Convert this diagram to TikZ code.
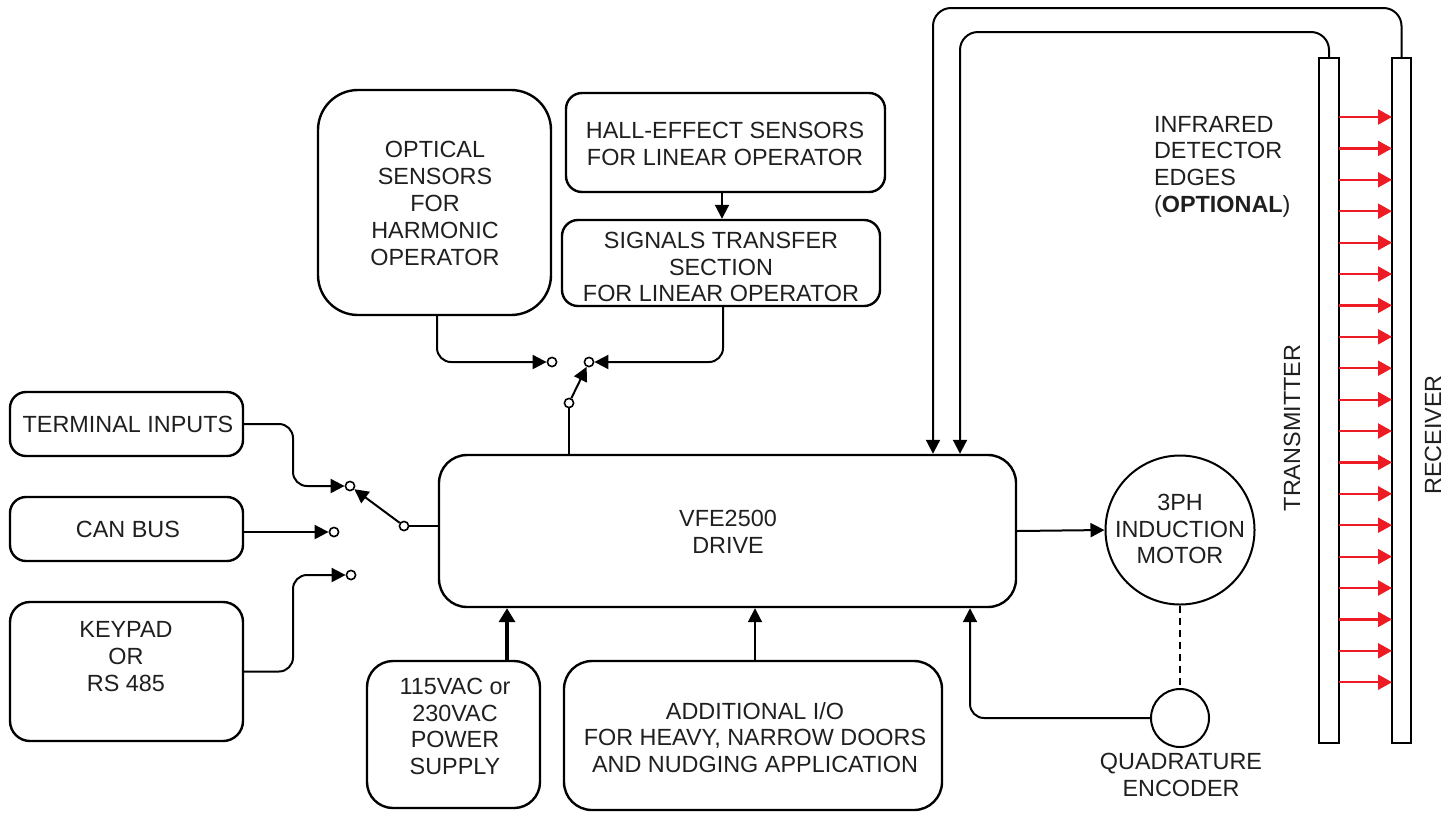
\documentclass[tikz,border=0pt]{standalone}
\usepackage{fontspec}
\setmainfont{Liberation Sans}
\usetikzlibrary{arrows.meta,fit}
\definecolor{irred}{RGB}{237,28,36}
\begin{document}
\begin{tikzpicture}[x=0.5pt,y=-0.5pt, line width=1pt,
  box/.style={draw, line width=1.2pt, rounded corners=#1, inner sep=0pt},
  box/.default=8pt,
  txt/.style={font=\fontsize{11.7}{13.4}\selectfont, align=center, inner sep=0pt, text=black!88},
  arr/.style={-{Triangle[length=7pt,width=7pt]}},
  sw/.style={draw, circle, fill=white, line width=0.8pt, minimum size=4.6pt, inner sep=0pt},
  wire/.style={line width=1pt, rounded corners=7pt},
  ir/.style={draw=irred, line width=1.1pt, -{Triangle[length=7pt,width=7.5pt]}},
  bar/.style={draw, line width=1.2pt, inner sep=0pt}
]
\useasboundingbox (0,0) rectangle (1455,815);

% boxes
\node[box=20pt, fit={(318,90)(551,315)}] (optical) {};
\node[txt] (opticalT) at (435,203.5) {OPTICAL\\SENSORS\\FOR\\HARMONIC\\OPERATOR};
\node[box=8pt, fit={(566,93)(885,192)}] (hall) {};
\node[txt] (hallT) at (725,144) {HALL-EFFECT SENSORS\\FOR LINEAR OPERATOR};
\node[box=8pt, fit={(562,220)(880,306)}] (signals) {};
\node[txt] (signalsT) at (721,267) {SIGNALS TRANSFER\\SECTION\\FOR LINEAR OPERATOR};
\node[box=8pt, fit={(10,392)(243,456)}] (term) {};
\node[txt] (termT) at (128,424) {TERMINAL INPUTS};
\node[box=8pt, fit={(10,497)(243,561)}] (can) {};
\node[txt] (canT) at (128,529) {CAN BUS};
\node[box=10pt, fit={(10,602)(243,741)}] (keypad) {};
\node[txt] (keypadT) at (126,656.5) {KEYPAD\\OR\\RS 485};
\node[box=14pt, fit={(439,455)(1016,607)}] (drive) {};
\node[txt] (driveT) at (728,532) {VFE2500\\DRIVE};
\node[box=13pt, fit={(367,661)(540,808)}] (power) {};
\node[txt] (powerT) at (455,726.5) {115VAC or\\230VAC\\POWER\\SUPPLY};
\node[box=14pt, fit={(564,661)(942,810)}] (addio) {};
\node[txt] (addioT) at (755,737.5) {ADDITIONAL I/O\\FOR HEAVY, NARROW DOORS\\AND NUDGING APPLICATION};

% motor and encoder
\node[draw, circle, line width=1pt, minimum size=74.5pt, inner sep=0pt] (motor) at (1180,530) {};
\node[txt] (motorT) at (1180,529) {3PH\\INDUCTION\\MOTOR};
\node[draw, circle, line width=1pt, minimum size=29pt, inner sep=0pt] (enc) at (1180,718) {};
\node[txt] (encT) at (1181,775) {QUADRATURE\\ENCODER};

% IR bars
\node[bar, fit={(1319,58)(1339,743)}] (tx) {};
\node[bar, fit={(1392,58)(1411,743)}] (rx) {};
\node[txt, rotate=90] (txT) at (1292,428) {TRANSMITTER};
\node[txt, rotate=90] (rxT) at (1433,435) {RECEIVER};
\node[txt, align=left, anchor=north west] (irT) at (1153,115) {INFRARED\\DETECTOR\\EDGES\\(\textbf{OPTIONAL})};
\foreach \k in {0,...,18}{
  \pgfmathsetmacro\yy{117+31.4*\k}
  \draw[ir] (1339,\yy) -- (1392,\yy);
}

% switch contacts
\node[sw] (c1) at (350,486) {};
\node[sw] (c2) at (334,532) {};
\node[sw] (c3) at (351,575) {};
\node[sw] (p1) at (404,526) {};
\node[sw] (c4) at (552,362) {};
\node[sw] (c5) at (589,362) {};
\node[sw] (p2) at (569,403) {};

% left connectors
\draw[wire, arr] (term.east) -| (293,486) -- (c1);
\draw[arr] (can.east |- c2) -- (c2);
\draw[wire, arr] (keypad.east) -| (293,575) -- (c3);
\draw[arr] (p1) -- (c1);
\draw (p1) -- (drive.west |- p1);

% top switch connectors
\draw[wire, arr] (optical.south -| 437,0) |- (c4);
\draw[wire, arr] (signals.south -| 723,0) |- (c5);
\draw[arr] (p2) -- (c5);
\draw (p2) -- (drive.north -| p2);
\draw[arr] (hall.south -| 722,0) -- (signals.north -| 722,0);

% bottom connectors
\draw[line width=2pt, -{Triangle[length=7pt,width=8pt]}] (power.north -| 507,0) -- (drive.south -| 507,0);
\draw[arr] (addio.north -| 755,0) -- (drive.south -| 755,0);
\draw[wire, arr] (enc.west) -| (drive.south -| 970,0);
\draw[arr] (drive.east) -- (motor.west);
\draw[dash pattern=on 3.5pt off 2.5pt] (motor.south) -- (enc.north);

% IR wires
\draw[wire, rounded corners=9pt, arr] (tx.north) |- (960,32) -- (drive.north -| 960,0);
\draw[wire, rounded corners=9pt, arr] (rx.north) |- (933,8) -- (drive.north -| 933,0);
\end{tikzpicture}
\end{document}
